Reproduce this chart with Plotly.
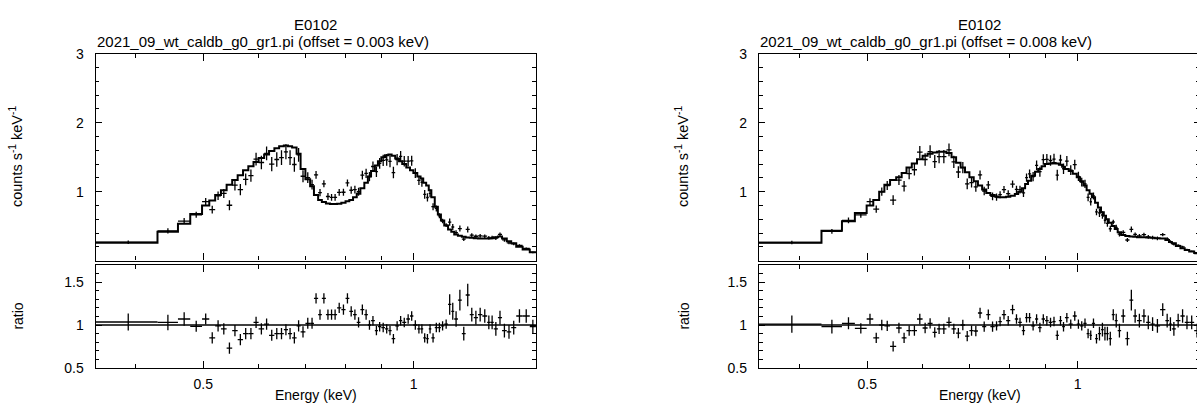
import numpy as np
import plotly.graph_objects as go

# ---------------- data ----------------
left_edges = [0.351, 0.430, 0.460, 0.479, 0.498, 0.510, 0.520, 0.530, 0.540, 0.550,
              0.560, 0.570, 0.580, 0.590, 0.600, 0.611, 0.621, 0.632, 0.642, 0.652,
              0.661, 0.670, 0.680, 0.689, 0.700, 0.711, 0.720, 0.730, 0.739, 0.749,
              0.759, 0.767, 0.777, 0.788, 0.799, 0.809, 0.819, 0.829, 0.839, 0.850,
              0.860, 0.869, 0.880, 0.889, 0.899, 0.910, 0.920, 0.930, 0.941, 0.953,
              0.963, 0.976, 0.988, 0.999, 1.012, 1.023, 1.032, 1.042, 1.051, 1.060,
              1.072, 1.083, 1.094, 1.106, 1.120, 1.132, 1.143, 1.157, 1.172, 1.187,
              1.203, 1.219, 1.236, 1.254, 1.274, 1.288, 1.302, 1.320, 1.338, 1.359,
              1.379, 1.402, 1.432, 1.466, 1.496]
left_model = [0.257, 0.419, 0.536, 0.675, 0.80, 0.87, 0.95, 1.02, 1.10, 1.17,
              1.24, 1.31, 1.37, 1.43, 1.49, 1.54, 1.59, 1.63, 1.66, 1.67,
              1.66, 1.64, 1.55, 1.33, 1.18, 1.08, 0.95, 0.88, 0.85, 0.83,
              0.82, 0.82, 0.825, 0.84, 0.86, 0.88, 0.92, 0.97, 1.05, 1.13,
              1.22, 1.30, 1.38, 1.44, 1.50, 1.53, 1.54, 1.52, 1.48, 1.44,
              1.40, 1.35, 1.31, 1.27, 1.22, 1.19, 1.13, 1.09, 1.02, 0.92,
              0.78, 0.67, 0.58, 0.51, 0.45, 0.42, 0.38, 0.36, 0.345, 0.335,
              0.33, 0.325, 0.32, 0.32, 0.32, 0.325, 0.34, 0.35, 0.32, 0.28,
              0.25, 0.20, 0.16, 0.12]
left_ratio = [1.035, 1.03, 1.07, 0.985, 1.07, 0.85, 0.99, 0.955, 0.73, 0.935,
              0.83, 0.90, 0.90, 1.03, 0.955, 1.01, 0.88, 0.90, 0.90, 0.945,
              0.90, 0.85, 0.99, 0.92, 1.02, 1.02, 1.31, 1.12, 1.31, 1.12,
              1.12, 1.12, 1.20, 1.18, 1.31, 1.16, 1.12, 1.03, 1.18, 1.12,
              1.00, 1.05, 0.935, 0.98, 0.97, 0.955, 0.935, 0.84, 0.99, 1.05,
              1.03, 1.07, 1.105, 1.00, 0.955, 0.955, 0.85, 0.84, 0.955, 0.85,
              0.97, 0.97, 0.99, 1.01, 1.24, 1.16, 1.07, 1.29, 0.90, 1.35,
              1.12, 1.085, 1.12, 1.105, 1.03, 1.03, 0.955, 1.085, 0.935, 0.92,
              0.97, 1.105, 1.105, 0.98]
left_ratio_err = [0.10, 0.09, 0.08, 0.065, 0.065, 0.065, 0.065, 0.065, 0.065, 0.065,
                  0.065, 0.065, 0.065, 0.065, 0.065, 0.065, 0.065, 0.065, 0.065, 0.065,
                  0.065, 0.065, 0.065, 0.065, 0.065, 0.065, 0.06, 0.06, 0.06, 0.06,
                  0.06, 0.06, 0.06, 0.06, 0.06, 0.06, 0.06, 0.06, 0.06, 0.06,
                  0.055, 0.055, 0.055, 0.055, 0.055, 0.055, 0.055, 0.055, 0.055, 0.055,
                  0.055, 0.055, 0.055, 0.055, 0.055, 0.055, 0.055, 0.055, 0.055, 0.055,
                  0.055, 0.055, 0.055, 0.055, 0.12, 0.10, 0.09, 0.12, 0.08, 0.13,
                  0.08, 0.08, 0.08, 0.08, 0.08, 0.08, 0.08, 0.08, 0.08, 0.08,
                  0.08, 0.08, 0.08, 0.08]

right_edges = [0.350, 0.430, 0.460, 0.480, 0.499, 0.510, 0.520, 0.529, 0.539, 0.550,
               0.560, 0.569, 0.579, 0.589, 0.600, 0.610, 0.620, 0.629, 0.638, 0.649,
               0.660, 0.670, 0.680, 0.690, 0.700, 0.710, 0.720, 0.730, 0.740, 0.750,
               0.761, 0.770, 0.779, 0.790, 0.801, 0.813, 0.822, 0.832, 0.841, 0.849,
               0.858, 0.869, 0.878, 0.888, 0.898, 0.909, 0.920, 0.930, 0.940, 0.950,
               0.959, 0.971, 0.984, 0.997, 1.008, 1.019, 1.030, 1.040, 1.048, 1.059,
               1.069, 1.080, 1.090, 1.098, 1.108, 1.119, 1.130, 1.141, 1.154, 1.170,
               1.186, 1.201, 1.216, 1.235, 1.253, 1.271, 1.289, 1.312, 1.335, 1.351,
               1.364, 1.382, 1.403, 1.423, 1.444, 1.468, 1.496]
right_model = [0.26, 0.433, 0.572, 0.69, 0.80, 0.88, 1.00, 1.10, 1.17, 1.21,
               1.27, 1.35, 1.41, 1.47, 1.52, 1.55, 1.57, 1.58, 1.58, 1.56,
               1.50, 1.42, 1.35, 1.28, 1.21, 1.15, 1.09, 1.03, 0.98, 0.95,
               0.93, 0.92, 0.92, 0.925, 0.94, 0.965, 1.00, 1.05, 1.11, 1.16,
               1.23, 1.29, 1.33, 1.37, 1.40, 1.41, 1.415, 1.41, 1.39, 1.36,
               1.33, 1.30, 1.26, 1.21, 1.15, 1.09, 1.02, 0.97, 0.92, 0.84,
               0.77, 0.70, 0.65, 0.60, 0.55, 0.50, 0.46, 0.41, 0.37, 0.355,
               0.35, 0.345, 0.34, 0.34, 0.335, 0.33, 0.325, 0.32, 0.30, 0.27,
               0.25, 0.21, 0.18, 0.155, 0.13, 0.11]
right_ratio = [1.01, 0.98, 1.02, 0.96, 1.07, 0.85, 1.00, 0.99, 0.75, 0.965,
               0.85, 0.935, 0.935, 1.07, 0.965, 1.02, 0.915, 0.955, 0.955, 1.03,
               0.955, 0.905, 1.00, 0.87, 0.935, 0.93, 1.14, 0.98, 1.12, 0.98,
               0.99, 1.04, 1.12, 1.05, 1.18, 1.07, 1.03, 0.935, 1.085, 1.085,
               0.99, 1.07, 0.97, 1.07, 1.05, 1.03, 1.04, 0.88, 1.05, 0.98,
               1.085, 1.01, 1.105, 1.01, 0.99, 1.02, 0.90, 0.88, 1.02, 0.84,
               0.90, 0.945, 0.90, 0.90, 0.84, 1.12, 1.05, 0.935, 1.105, 0.84,
               1.29, 1.105, 1.05, 1.105, 1.03, 1.01, 0.99, 1.18, 1.05, 1.01,
               0.955, 1.05, 1.105, 1.03, 1.03, 0.935]
right_ratio_err = [0.10, 0.08, 0.07, 0.06, 0.06, 0.06, 0.06, 0.06, 0.06, 0.06,
                   0.06, 0.06, 0.06, 0.06, 0.06, 0.06, 0.06, 0.06, 0.06, 0.06,
                   0.06, 0.06, 0.06, 0.06, 0.06, 0.06, 0.06, 0.06, 0.06, 0.06,
                   0.055, 0.055, 0.055, 0.055, 0.055, 0.055, 0.055, 0.055, 0.055, 0.055,
                   0.055, 0.055, 0.055, 0.055, 0.055, 0.055, 0.055, 0.055, 0.055, 0.055,
                   0.055, 0.055, 0.055, 0.055, 0.055, 0.055, 0.055, 0.055, 0.055, 0.055,
                   0.08, 0.08, 0.08, 0.08, 0.08, 0.065, 0.08, 0.08, 0.08, 0.08,
                   0.12, 0.08, 0.08, 0.08, 0.08, 0.08, 0.08, 0.075, 0.08, 0.08,
                   0.08, 0.08, 0.08, 0.08, 0.08, 0.08]

title_main = "E0102"
left_subtitle = "2021_09_wt_caldb_g0_gr1.pi (offset = 0.003 keV)"
right_subtitle = "2021_09_wt_caldb_g0_gr1.pi (offset = 0.008 keV)"
x_tickvals = [0.5, 1]
x_ticktext = ["0.5", "1"]
x_minor = [0.4, 0.6, 0.7, 0.8, 0.9]

# ---------------- figure ----------------
W, H = 1197, 415
FONT = "Liberation Sans, Arial, Helvetica, sans-serif"
fig = go.Figure()


def add_panel(edges, model, ratio, rerr, n):
    e = np.array(edges)
    m = np.array(model)
    r = np.array(ratio)
    re = np.array(rerr)
    lo, hi = e[:-1], e[1:]
    c = (lo + hi) / 2.0
    counts = r * m
    cerr = re * m
    top_x = "x" if n == 1 else f"x{2*n-1}"
    top_y = "y" if n == 1 else f"y{2*n-1}"
    bot_x = f"x{2*n}"
    bot_y = f"y{2*n}"
    fig.add_trace(go.Scatter(x=e, y=np.append(m, m[-1]), mode="lines",
                             line=dict(color="black", width=2, shape="hv"),
                             xaxis=top_x, yaxis=top_y, hoverinfo="skip"))
    fig.add_trace(go.Scatter(x=c, y=counts, mode="markers",
                             marker=dict(size=1, color="black"),
                             error_x=dict(type="data", symmetric=False, array=hi - c,
                                          arrayminus=c - lo, thickness=1.3, width=0,
                                          color="black"),
                             error_y=dict(type="data", array=cerr, thickness=1.3,
                                          width=0, color="black"),
                             xaxis=top_x, yaxis=top_y))
    fig.add_trace(go.Scatter(x=[e[0], e[-1]], y=[1, 1], mode="lines",
                             line=dict(color="black", width=1.5),
                             xaxis=bot_x, yaxis=bot_y, hoverinfo="skip"))
    fig.add_trace(go.Scatter(x=c, y=r, mode="markers",
                             marker=dict(size=1, color="black"),
                             error_x=dict(type="data", symmetric=False, array=hi - c,
                                          arrayminus=c - lo, thickness=1.3, width=0,
                                          color="black"),
                             error_y=dict(type="data", array=re, thickness=1.3,
                                          width=0, color="black"),
                             xaxis=bot_x, yaxis=bot_y))


add_panel(left_edges, left_model, left_ratio, left_ratio_err, 1)
add_panel(right_edges, right_model, right_ratio, right_ratio_err, 2)

# empty traces so the right-edge tick-only axes of the cut-off panel exist
fig.add_trace(go.Scatter(x=[], y=[], xaxis="x3", yaxis="y5", showlegend=False))
fig.add_trace(go.Scatter(x=[], y=[], xaxis="x4", yaxis="y6", showlegend=False))

tickfont = dict(family=FONT, size=14, color="black")


def xaxis(domain, rng, labels, anchor):
    return dict(type="log", domain=domain, range=rng, anchor=anchor,
                showline=True, linecolor="black", linewidth=1.3, mirror="ticks",
                ticks="inside", ticklen=7, tickwidth=1.2, tickcolor="black",
                tickvals=x_tickvals, ticktext=x_ticktext, showticklabels=labels,
                tickfont=tickfont, ticklabelstandoff=3,
                minor=dict(tickmode="array", tickvals=x_minor, ticks="inside",
                           ticklen=4, tickwidth=1.2, tickcolor="black", showgrid=False),
                showgrid=False, zeroline=False)


def yaxis(domain, rng, vals, texts, mdt, anchor, mirror="ticks"):
    return dict(domain=domain, range=rng, anchor=anchor,
                showline=True, linecolor="black", linewidth=1.3, mirror=mirror,
                ticks="inside", ticklen=6, tickwidth=1.2, tickcolor="black",
                tickvals=vals, ticktext=texts, tickfont=tickfont, ticklabelstandoff=8,
                minor=dict(tick0=0, dtick=mdt, ticks="inside", ticklen=3.5,
                           tickwidth=1.2, tickcolor="black", showgrid=False),
                showgrid=False, zeroline=False)


def edge_yaxis(domain, rng, vals, mdt, anchor, over):
    return dict(domain=domain, range=rng, anchor=anchor, overlaying=over, side="right",
                showline=False, ticks="inside", ticklen=3, tickwidth=1.2,
                tickcolor="black", tickvals=vals, showticklabels=False,
                minor=dict(tick0=0, dtick=mdt, ticks="inside", ticklen=1,
                           tickwidth=1.2, tickcolor="black", showgrid=False),
                showgrid=False, zeroline=False)


LX = [95.7 / W, 536 / W]
RX = [759 / W, 1.0]
TY = [1 - 262.7 / H, 1 - 47.7 / H]
BY = [1 - 374.3 / H, 1 - 267.3 / H]
lrange = [np.log10(0.3508), np.log10(1.4964)]
rrange = [np.log10(0.350), np.log10(1.4964) - 3 / 698.9]

fig.update_layout(
    width=W, height=H, autosize=False,
    margin=dict(l=0, r=0, t=0, b=0),
    paper_bgcolor="white", plot_bgcolor="white",
    showlegend=False,
    font=dict(family=FONT, size=14, color="black"),
    xaxis=xaxis(LX, lrange, False, "y"),
    yaxis=yaxis(TY, [0, 3], [1, 2, 3], ["1", "2", "3"], 0.2, "x"),
    xaxis2=xaxis(LX, lrange, True, "y2"),
    yaxis2=yaxis(BY, [0.5, 1.7], [0.5, 1, 1.5], ["0.5", "1", "1.5"], 0.1, "x2"),
    xaxis3=xaxis(RX, rrange, False, "y3"),
    yaxis3=yaxis(TY, [0, 3], [1, 2, 3], ["1", "2", "3"], 0.2, "x3", mirror=False),
    xaxis4=xaxis(RX, rrange, True, "y4"),
    yaxis4=yaxis(BY, [0.5, 1.7], [0.5, 1, 1.5], ["0.5", "1", "1.5"], 0.1, "x4",
                 mirror=False),
    yaxis5=edge_yaxis(TY, [0, 3], [1, 2, 3], 0.2, "x3", "y3"),
    yaxis6=edge_yaxis(BY, [0.5, 1.7], [0.5, 1, 1.5], 0.1, "x4", "y4"),
)

ann = []
for cx, left_x, sub, ytx in [((95.7 + 536) / 2, 95.7, left_subtitle, 16),
                             ((759 + 1200) / 2, 759, right_subtitle, 682)]:
    ann.append(dict(text=title_main, x=cx / W, y=1 - 17.5 / H, xref="paper",
                    yref="paper", xanchor="center", yanchor="middle", showarrow=False,
                    font=dict(family=FONT, size=15, color="black")))
    ann.append(dict(text=sub, x=(left_x - 1) / W, y=1 - 34.5 / H, xref="paper",
                    yref="paper", xanchor="left", yanchor="middle", showarrow=False,
                    font=dict(family=FONT, size=15, color="black")))
    ann.append(dict(text="Energy (keV)", x=cx / W, y=1 - 403 / H, xref="paper",
                    yref="paper", xanchor="center", yanchor="middle", showarrow=False,
                    font=dict(family=FONT, size=14, color="black")))
    ann.append(dict(text="counts s<sup>-1</sup> keV<sup>-1</sup>", x=ytx / W,
                    y=1 - 155 / H, xref="paper", yref="paper", xanchor="center",
                    yanchor="middle", textangle=-90, showarrow=False,
                    font=dict(family=FONT, size=14.5, color="black")))
    ann.append(dict(text="ratio", x=(ytx + 2) / W, y=1 - 321 / H, xref="paper",
                    yref="paper", xanchor="center", yanchor="middle", textangle=-90,
                    showarrow=False, font=dict(family=FONT, size=14, color="black")))
fig.update_layout(annotations=ann)

fig.write_html("out.html",
               config={"displayModeBar": False},
               post_script="document.body.style.margin='0px';"
                           "document.body.style.overflow='hidden';")
